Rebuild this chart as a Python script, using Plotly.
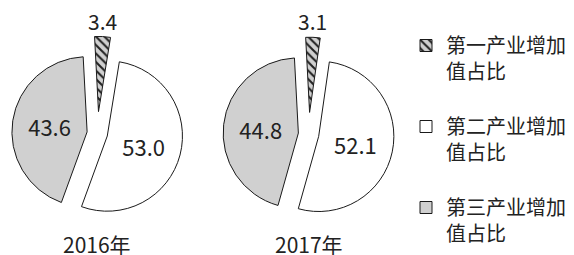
import math
import plotly.graph_objects as go

years = ["2016年", "2017年"]
legend_labels = ["<br>第一产业增加<br>值占比", "<br>第二产业增加<br>值占比", "<br>第三产业增加<br>值占比"]
values_2016 = [3.4, 53.0, 43.6]
values_2017 = [3.1, 52.1, 44.8]
all_values = [values_2016, values_2017]

W, H = 574, 255
FONT = "Noto Sans CJK SC, Noto Sans, sans-serif"
fills = ["#d0d0d0", "#ffffff", "#d0d0d0"]
pulls = [0.29, 0.137, 0.137]
ROT = -3
centers = [(97.3, 133.4), (308.6, 134.2)]
half = 97.0

fig = go.Figure()
annotations = []
for i, (vals, yr) in enumerate(zip(all_values, years)):
    cx, cy = centers[i]
    dx = [max(0, (cx - half) / W), min(1, (cx + half) / W)]
    yc = H - cy
    dy = [(yc - half) / H, (yc + half) / H]
    fig.add_trace(go.Pie(
        labels=legend_labels,
        values=vals,
        sort=False,
        direction="clockwise",
        rotation=ROT,
        pull=pulls,
        texttemplate=["", "%{value:.1f}", "%{value:.1f}"],
        textposition=["none", "inside", "inside"],
        insidetextorientation="horizontal",
        textfont=dict(family=FONT, size=22, color="#222222"),
        marker=dict(
            colors=fills,
            line=dict(color="#1a1a1a", width=1),
            pattern=dict(shape=["\\", "", ""], fgcolor="#222222",
                         bgcolor=fills, size=6, solidity=0.35),
        ),
        domain=dict(x=dx, y=dy),
        showlegend=(i == 0),
        hoverinfo="label+value",
    ))
    # label of the small (pulled-out) slice, centred above its outer edge
    r = half / (1 + max(pulls))
    theta = math.radians(ROT + 180.0 * vals[0] / sum(vals))
    ex = cx + (1 + pulls[0]) * r * math.sin(theta)
    ey = cy - (1 + pulls[0]) * r * math.cos(theta)
    annotations.append(dict(
        text=f"{vals[0]:.1f}", x=ex / W, y=(H - ey) / H, xref="paper", yref="paper",
        xanchor="center", yanchor="bottom", yshift=-1, showarrow=False,
        font=dict(family=FONT, size=21, color="#222222"),
    ))
    annotations.append(dict(
        text=yr, x=cx / W, y=(H - 244) / H, xref="paper", yref="paper",
        xanchor="center", yanchor="middle", showarrow=False,
        font=dict(family=FONT, size=21, color="#222222"),
    ))

fig.update_layout(
    width=W, height=H,
    margin=dict(l=0, r=0, t=0, b=0, autoexpand=False),
    paper_bgcolor="white",
    plot_bgcolor="white",
    font=dict(family=FONT, color="#222222"),
    annotations=annotations,
    legend=dict(
        x=406 / W, y=1.0, xanchor="left", yanchor="top",
        font=dict(family=FONT, size=20, color="#222222"),
        bgcolor="rgba(0,0,0,0)",
        traceorder="normal",
    ),
)

fig.write_html(
    "out.html",
    config={"displayModeBar": False},
    post_script="document.body.style.margin='0px';document.body.style.overflow='hidden';",
)
